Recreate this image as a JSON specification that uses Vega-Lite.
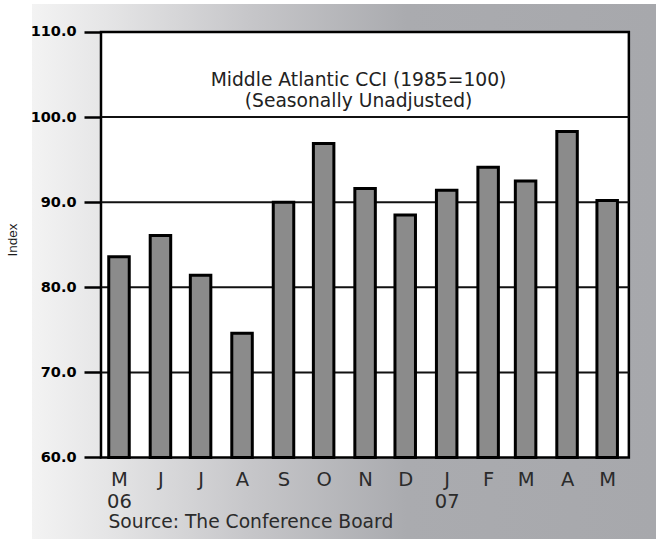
{
  "$schema": "https://vega.github.io/schema/vega-lite/v6.json",
  "width": 624,
  "height": 535,
  "autosize": {"type": "none"},
  "padding": {"left": 32, "top": 4, "right": 0, "bottom": 1},
  "background": "white",
  "config": {"view": {"stroke": null}, "font": "DejaVu Sans"},
  "datasets": {
    "cci": [
      {"date": "2006-05-01T00:00:00", "index": 83.6},
      {"date": "2006-06-01T00:00:00", "index": 86.1},
      {"date": "2006-07-01T00:00:00", "index": 81.4},
      {"date": "2006-08-01T00:00:00", "index": 74.6},
      {"date": "2006-09-01T00:00:00", "index": 90.0},
      {"date": "2006-10-01T00:00:00", "index": 96.9},
      {"date": "2006-11-01T00:00:00", "index": 91.6},
      {"date": "2006-12-01T00:00:00", "index": 88.5},
      {"date": "2007-01-01T00:00:00", "index": 91.4},
      {"date": "2007-02-01T00:00:00", "index": 94.1},
      {"date": "2007-03-01T00:00:00", "index": 92.5},
      {"date": "2007-04-01T00:00:00", "index": 98.3},
      {"date": "2007-05-01T00:00:00", "index": 90.2}
    ],
    "grid": [{"level": 70}, {"level": 80}, {"level": 90}, {"level": 100}],
    "panel": [{"name": "panel"}]
  },
  "resolve": {"axis": {"x": "independent", "y": "independent"}},
  "layer": [
    {
      "data": {"name": "panel"},
      "mark": {
        "type": "rect",
        "fill": {
          "gradient": "linear",
          "x1": 0, "y1": 0, "x2": 1, "y2": 0,
          "stops": [
            {"offset": 0, "color": "#f3f3f3"},
            {"offset": 0.12, "color": "#e5e5e6"},
            {"offset": 0.35, "color": "#c6c6c9"},
            {"offset": 0.6, "color": "#aaabaf"},
            {"offset": 1, "color": "#a7a8ac"}
          ]
        }
      },
      "encoding": {
        "x": {"datum": {"year": 2006, "month": 2, "date": 24, "hours": 23}, "type": "temporal",
              "scale": {"domain": [{"year": 2006, "month": 2, "date": 24, "hours": 23}, {"year": 2007, "month": 6, "date": 6, "hours": 12}], "nice": false, "padding": 0}, "axis": null},
        "x2": {"datum": {"year": 2007, "month": 6, "date": 6, "hours": 12}},
        "y": {"datum": 50.42, "type": "quantitative", "scale": {"domain": [50.42, 113.29], "nice": false, "zero": false, "padding": 0}, "axis": null},
        "y2": {"datum": 113.29}
      }
    },
    {
      "data": {"name": "panel"},
      "mark": {"type": "rect", "fill": "white", "stroke": "#000", "strokeWidth": 2.5},
      "encoding": {
        "x": {"datum": {"year": 2006, "month": 4, "date": 17, "hours": 13}, "type": "temporal",
              "scale": {"domain": [{"year": 2006, "month": 2, "date": 24, "hours": 23}, {"year": 2007, "month": 6, "date": 6, "hours": 12}], "nice": false, "padding": 0}, "axis": null},
        "x2": {"datum": {"year": 2007, "month": 5, "date": 17, "hours": 5}},
        "y": {"datum": 60, "type": "quantitative", "scale": {"domain": [50.42, 113.29], "nice": false, "zero": false, "padding": 0}, "axis": null},
        "y2": {"datum": 110}
      }
    },
    {
      "data": {"name": "grid"},
      "mark": {"type": "rule", "stroke": "#111", "strokeWidth": 2},
      "encoding": {
        "x": {"datum": {"year": 2006, "month": 4, "date": 17, "hours": 13}, "type": "temporal",
              "scale": {"domain": [{"year": 2006, "month": 2, "date": 24, "hours": 23}, {"year": 2007, "month": 6, "date": 6, "hours": 12}], "nice": false, "padding": 0}, "axis": null},
        "x2": {"datum": {"year": 2007, "month": 5, "date": 17, "hours": 5}},
        "y": {"field": "level", "type": "quantitative", "scale": {"domain": [50.42, 113.29], "nice": false, "zero": false, "padding": 0}, "axis": null}
      }
    },
    {
      "data": {"name": "cci"},
      "mark": {"type": "bar", "width": 20.5, "fill": "#8b8b8b", "stroke": "#000", "strokeWidth": 3},
      "encoding": {
        "x": {
          "field": "date", "type": "temporal",
          "scale": {"domain": [{"year": 2006, "month": 2, "date": 24, "hours": 23}, {"year": 2007, "month": 6, "date": 6, "hours": 12}], "nice": false, "padding": 0},
          "axis": {
            "values": [
              {"year": 2006, "month": 5, "date": 1}, {"year": 2006, "month": 6, "date": 1}, {"year": 2006, "month": 7, "date": 1},
              {"year": 2006, "month": 8, "date": 1}, {"year": 2006, "month": 9, "date": 1}, {"year": 2006, "month": 10, "date": 1},
              {"year": 2006, "month": 11, "date": 1}, {"year": 2006, "month": 12, "date": 1}, {"year": 2007, "month": 1, "date": 1},
              {"year": 2007, "month": 2, "date": 1}, {"year": 2007, "month": 3, "date": 1}, {"year": 2007, "month": 4, "date": 1},
              {"year": 2007, "month": 5, "date": 1}
            ],
            "labelExpr": "(month(datum.value) == 0 || (year(datum.value) == 2006 && month(datum.value) == 4)) ? [substring(timeFormat(datum.value, '%b'), 0, 1), timeFormat(datum.value, '%y')] : substring(timeFormat(datum.value, '%b'), 0, 1)",
            "offset": -81,
            "domain": false,
            "grid": false,
            "ticks": false,
            "tickSize": 0,
            "labelPadding": 27,
            "labelBaseline": "alphabetic",
            "labelLineHeight": 22,
            "labelFont": "DejaVu Sans",
            "labelFontSize": 19.5,
            "labelColor": "#2b2b2b",
            "labelAlign": "center",
            "labelAngle": 0,
            "labelFlush": false,
            "labelOverlap": false,
            "title": "Source: The Conference Board",
            "titleX": 76,
            "titleY": 69,
            "titleAlign": "left",
            "titleAnchor": "start",
            "titleBaseline": "alphabetic",
            "titleFont": "DejaVu Sans",
            "titleFontSize": 18.7,
            "titleFontWeight": "normal",
            "titleColor": "#2b2b2b",
            "zindex": 1
          }
        },
        "y": {
          "field": "index", "type": "quantitative",
          "scale": {"domain": [50.42, 113.29], "nice": false, "zero": false, "padding": 0},
          "axis": {
            "values": [60, 70, 80, 90, 100, 110],
            "format": ".1f",
            "offset": -69,
            "domain": false,
            "grid": false,
            "tickSize": 17,
            "tickWidth": 2.5,
            "tickColor": "#000",
            "labelPadding": 8,
            "labelFont": "DejaVu Sans",
            "labelFontSize": 14.5,
            "labelFontWeight": "bold",
            "labelColor": "#000",
            "labelAlign": "right",
            "labelBaseline": "middle",
            "labelFlush": false,
            "labelOverlap": false,
            "title": "Index",
            "titleFont": "Liberation Sans",
            "titleFontSize": 13.5,
            "titleFontWeight": "normal",
            "titleColor": "#1a1a1a",
            "titleX": -89,
            "titleY": 235.5,
            "titleAngle": 270,
            "titleAlign": "center",
            "titleBaseline": "middle",
            "zindex": 1
          }
        },
        "y2": {"datum": 60}
      }
    },
    {
      "data": {"name": "panel"},
      "mark": {
        "type": "text",
        "text": ["Middle Atlantic CCI (1985=100)", "(Seasonally Unadjusted)"],
        "align": "center",
        "baseline": "alphabetic",
        "lineHeight": 21,
        "font": "DejaVu Sans",
        "fontSize": 18.7,
        "fill": "#222"
      },
      "encoding": {
        "x": {"datum": {"year": 2006, "month": 10, "date": 27, "hours": 2}, "type": "temporal",
              "scale": {"domain": [{"year": 2006, "month": 2, "date": 24, "hours": 23}, {"year": 2007, "month": 6, "date": 6, "hours": 12}], "nice": false, "padding": 0}, "axis": null},
        "y": {"datum": 103.69, "type": "quantitative", "scale": {"domain": [50.42, 113.29], "nice": false, "zero": false, "padding": 0}, "axis": null}
      }
    }
  ]
}
